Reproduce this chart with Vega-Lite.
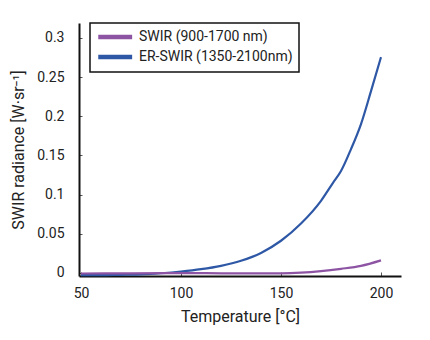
{
  "$schema": "https://vega.github.io/schema/vega-lite/v6.json",
  "width": 322,
  "height": 253,
  "padding": {"left": 10, "top": 22, "right": 5, "bottom": 5},
  "background": "white",
  "config": {"view": {"stroke": null}, "font": "Roboto", "legend": {"strokeWidth": 1.5}},
  "data": {"values": [
    {"t": 50, "v": -0.003, "s": "ER-SWIR (1350-2100nm)"},
    {"t": 60, "v": -0.003, "s": "ER-SWIR (1350-2100nm)"},
    {"t": 70, "v": -0.0025, "s": "ER-SWIR (1350-2100nm)"},
    {"t": 80, "v": -0.002, "s": "ER-SWIR (1350-2100nm)"},
    {"t": 90, "v": -0.0005, "s": "ER-SWIR (1350-2100nm)"},
    {"t": 100, "v": 0.0017, "s": "ER-SWIR (1350-2100nm)"},
    {"t": 110, "v": 0.0047, "s": "ER-SWIR (1350-2100nm)"},
    {"t": 120, "v": 0.009, "s": "ER-SWIR (1350-2100nm)"},
    {"t": 130, "v": 0.0155, "s": "ER-SWIR (1350-2100nm)"},
    {"t": 140, "v": 0.0255, "s": "ER-SWIR (1350-2100nm)"},
    {"t": 150, "v": 0.041, "s": "ER-SWIR (1350-2100nm)"},
    {"t": 160, "v": 0.063, "s": "ER-SWIR (1350-2100nm)"},
    {"t": 170, "v": 0.092, "s": "ER-SWIR (1350-2100nm)"},
    {"t": 176, "v": 0.115, "s": "ER-SWIR (1350-2100nm)"},
    {"t": 180, "v": 0.13, "s": "ER-SWIR (1350-2100nm)"},
    {"t": 185, "v": 0.158, "s": "ER-SWIR (1350-2100nm)"},
    {"t": 190, "v": 0.19, "s": "ER-SWIR (1350-2100nm)"},
    {"t": 195, "v": 0.232, "s": "ER-SWIR (1350-2100nm)"},
    {"t": 200, "v": 0.2755, "s": "ER-SWIR (1350-2100nm)"},
    {"t": 50, "v": -0.0008, "s": "SWIR (900-1700 nm)"},
    {"t": 75, "v": -0.0006, "s": "SWIR (900-1700 nm)"},
    {"t": 100, "v": -0.0003, "s": "SWIR (900-1700 nm)"},
    {"t": 125, "v": -0.0006, "s": "SWIR (900-1700 nm)"},
    {"t": 150, "v": -0.0006, "s": "SWIR (900-1700 nm)"},
    {"t": 160, "v": 0.0002, "s": "SWIR (900-1700 nm)"},
    {"t": 170, "v": 0.0022, "s": "SWIR (900-1700 nm)"},
    {"t": 180, "v": 0.0052, "s": "SWIR (900-1700 nm)"},
    {"t": 190, "v": 0.009, "s": "SWIR (900-1700 nm)"},
    {"t": 200, "v": 0.016, "s": "SWIR (900-1700 nm)"}
  ]},
  "mark": {"type": "line", "interpolate": "monotone", "strokeWidth": 2.2},
  "encoding": {
    "x": {"field": "t", "type": "quantitative",
      "scale": {"domain": [49, 210], "nice": false, "zero": false},
      "axis": {"values": [50, 100, 150, 200], "title": "Temperature [°C]", "grid": false,
        "domainColor": "#111", "domainWidth": 2, "tickColor": "#555", "tickSize": -4, "tickWidth": 1,
        "labelPadding": 14, "labelFontSize": 14, "labelColor": "#222", "labelFont": "Roboto",
        "titleFontSize": 16, "titleFontWeight": "normal", "titleColor": "#222", "titlePadding": 8, "titleFont": "Roboto"}},
    "y": {"field": "v", "type": "quantitative",
      "scale": {"domain": [-0.004, 0.319], "nice": false, "zero": false},
      "axis": {"values": [0, 0.05, 0.1, 0.15, 0.2, 0.25, 0.3], "format": "~g", "title": "SWIR radiance [W·sr⁻¹]", "grid": false,
        "domainColor": "#111", "domainWidth": 2, "tickColor": "#555", "tickSize": -3, "tickWidth": 1,
        "labelPadding": 18, "labelFontSize": 14, "labelColor": "#222", "labelFont": "Roboto",
        "titleFontSize": 16, "titleFontWeight": "normal", "titleColor": "#222", "titlePadding": 10, "titleFont": "Roboto"}},
    "color": {"field": "s", "type": "nominal",
      "scale": {"domain": ["SWIR (900-1700 nm)", "ER-SWIR (1350-2100nm)"], "range": ["#8e54a4", "#2e58a6"]},
      "legend": {"title": null, "orient": "none", "legendX": 11, "legendY": 0,
        "strokeColor": "#111", "padding": 6, "fillColor": "white",
        "symbolType": "M-1,0H4.9", "symbolSize": 132, "symbolStrokeWidth": 4.5, "rowPadding": 2,
        "labelFontSize": 14, "labelColor": "#222", "labelFont": "Roboto", "labelOffset": 27}}
  }
}
